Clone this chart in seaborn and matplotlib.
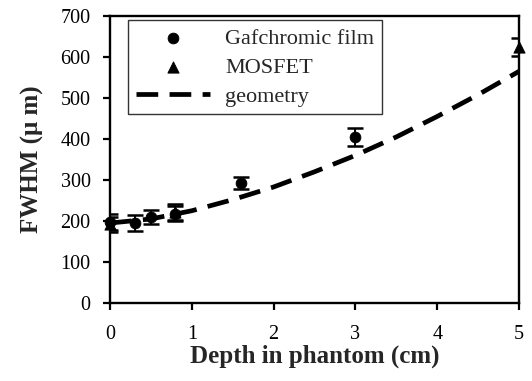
import matplotlib
matplotlib.use("Agg")
import matplotlib.pyplot as plt
import seaborn as sns
import pandas as pd
import numpy as np

# Data
film_depth = [0.0, 0.3, 0.5, 0.8, 1.6, 3.0]
film_fwhm = [197, 195, 210, 218, 292, 405]
film_err = [20, 20, 18, 18, 15, 22]

mosfet_depth = [0.0, 0.8, 5.0]
mosfet_fwhm = [192, 222, 625]
mosfet_err = [18, 20, 22]

geom_depth = [0.0, 0.5, 1.0, 1.5, 2.0, 2.5, 3.0, 3.5, 4.0, 4.5, 5.0]
geom_fwhm = [195, 205, 225, 252, 283, 320, 360, 405, 455, 508, 565]

sns.set_style("ticks")
plt.rcParams['font.family'] = ['Liberation Serif', 'DejaVu Serif']

fig = plt.figure(figsize=(5.32, 3.81), dpi=100)
ax = fig.add_axes([110/532, 1-303/381, (519-110)/532, (303-16)/381])

df_geom = pd.DataFrame({"depth": geom_depth, "fwhm": geom_fwhm})
sns.lineplot(data=df_geom, x="depth", y="fwhm", ax=ax, color="black",
             linewidth=3.4, dashes=False, label="geometry", zorder=2)
ax.lines[-1].set_dashes([4.6, 2.4])

ax.errorbar(film_depth, film_fwhm, yerr=film_err, fmt="none", ecolor="black",
            elinewidth=1.4, capsize=5.5, capthick=1.8, zorder=3)
ax.errorbar(mosfet_depth, mosfet_fwhm, yerr=mosfet_err, fmt="none", ecolor="black",
            elinewidth=1.4, capsize=5.5, capthick=1.8, zorder=3)

df_film = pd.DataFrame({"depth": film_depth, "fwhm": film_fwhm})
df_mos = pd.DataFrame({"depth": mosfet_depth, "fwhm": mosfet_fwhm})
sns.scatterplot(data=df_film, x="depth", y="fwhm", ax=ax, marker="o", s=60,
                color="black", edgecolor="black", label="Gafchromic film", zorder=4, clip_on=False)
sns.scatterplot(data=df_mos, x="depth", y="fwhm", ax=ax, marker="^", s=65,
                color="black", edgecolor="black", label="MOSFET", zorder=4, clip_on=False)

ax.set_xlim(0, 5)
ax.set_ylim(0, 700)
ax.set_xticks([0, 1, 2, 3, 4, 5])
ax.set_yticks([0, 100, 200, 300, 400, 500, 600, 700])
ax.tick_params(axis="both", direction="out", length=5, width=1.6, colors="black",
               labelsize=14.5)
ax.tick_params(axis="x", pad=11)
ax.tick_params(axis="y", pad=9)
for s in ax.spines.values():
    s.set_linewidth(1.7)
    s.set_color("black")

ax.set_xlabel("Depth in phantom (cm)", fontsize=18, fontweight="bold", labelpad=0)
ax.set_ylabel("FWHM (μ m)", fontsize=18, fontweight="bold", labelpad=12)

handles, labels = ax.get_legend_handles_labels()
order = [labels.index("Gafchromic film"), labels.index("MOSFET"), labels.index("geometry")]
leg = ax.legend([handles[i] for i in order], [labels[i] for i in order],
                loc="upper left", bbox_to_anchor=(0.045, 0.985), frameon=True,
                fancybox=False, edgecolor="black", fontsize=16, handlelength=3.3,
                borderpad=0.35, labelspacing=0.38, handletextpad=0.7, borderaxespad=0)
leg.get_frame().set_linewidth(1.0)

fig.savefig("out.png", dpi=100, facecolor="white")
